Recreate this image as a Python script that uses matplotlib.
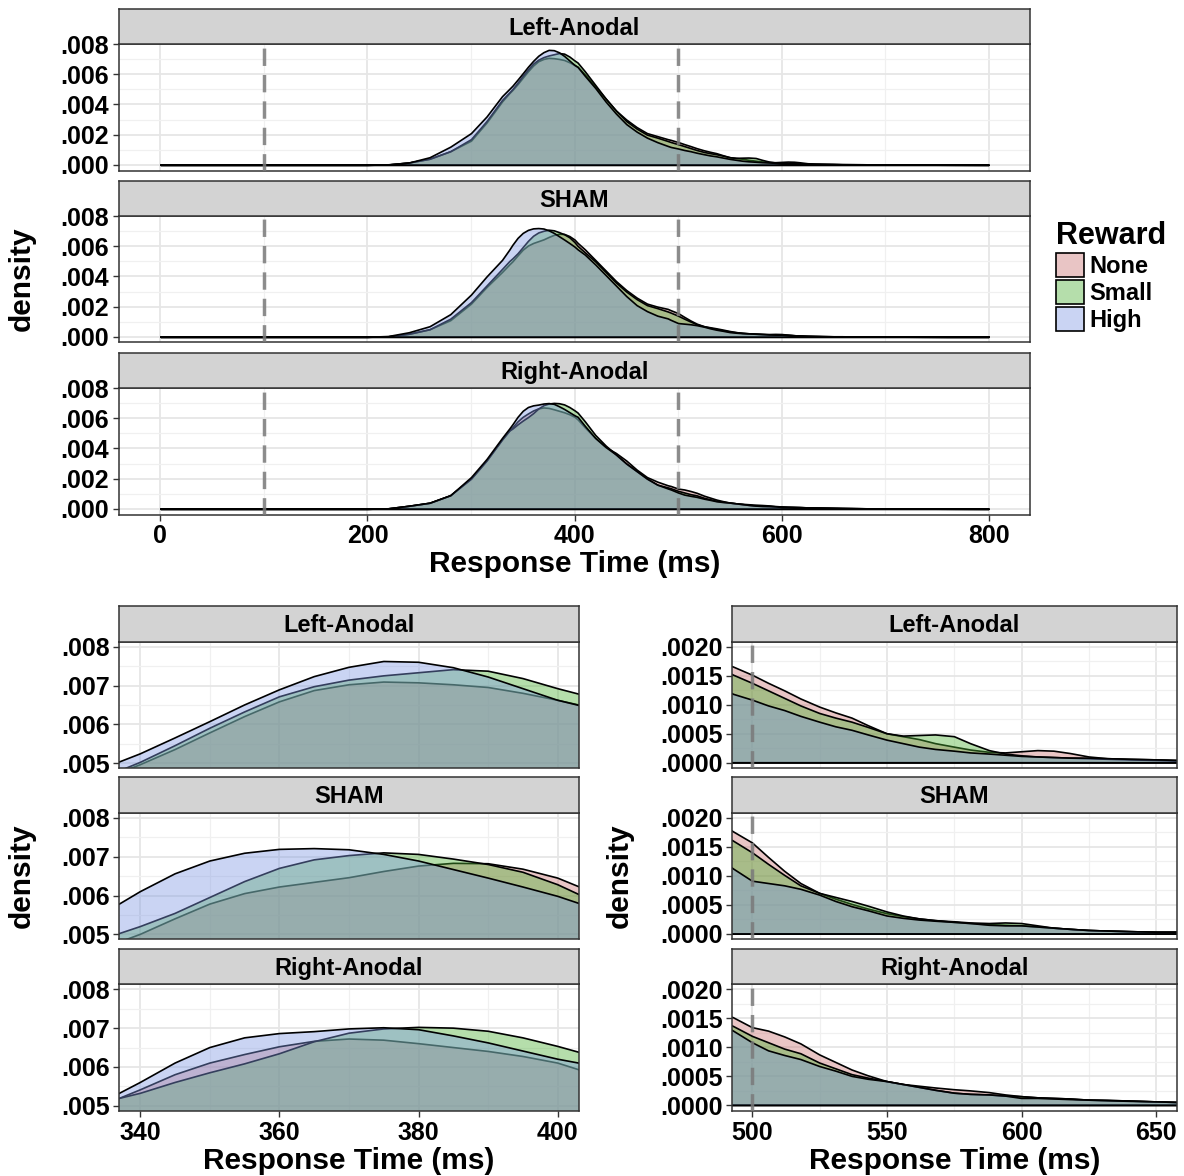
import matplotlib
matplotlib.use("Agg")
import matplotlib.pyplot as plt
import numpy as np
from matplotlib.colors import to_rgba
from matplotlib.patches import Patch
from matplotlib.ticker import FuncFormatter, MultipleLocator

# response time grid (ms) shared by every density curve
rt = [0, 100, 200, 220, 240, 260, 280, 300, 315, 330,
      337, 340, 345, 350, 355, 360, 365, 370, 375, 380,
      385, 390, 395, 400, 403, 410, 420, 430, 440, 450,
      460, 470, 480, 490, 493, 500, 506, 512, 518, 525,
      531, 537, 543, 550, 556, 562, 568, 575, 581, 588,
      594, 600, 606, 612, 618, 625, 632, 640, 650, 658,
      680, 700, 730, 760, 800]

# densities, in units of 1e-4
left_none = [0, 0, 0, 0.2, 1.5, 4, 9, 16, 28, 42,
             47.5, 49.6, 53.5, 57.8, 62.0, 65.8, 68.7, 70.2, 70.9, 70.7,
             70.2, 69.5, 68.0, 66.2, 65.0, 60, 52, 44, 36, 30,
             25, 21, 19, 17, 16.5, 15.1, 13.7, 12.4, 11.0, 9.6,
             8.6, 7.7, 6.4, 5.0, 4.5, 4.0, 3.3, 2.7, 2.2, 1.8,
             1.7, 1.9, 2.1, 2.0, 1.6, 1.0, 0.7, 0.6, 0.5, 0.4,
             0.3, 0.2, 0.1, 0.05, 0]
left_small = [0, 0, 0, 0.2, 1.5, 4, 9, 17, 29, 43,
              48.0, 50.2, 54.5, 59.0, 63.2, 67.1, 69.7, 71.4, 72.5, 73.3,
              74.1, 73.7, 71.8, 69.2, 67.8, 62, 53, 44, 36, 29,
              24, 20, 18, 15.8, 15.1, 13.7, 12.4, 11.1, 9.8, 8.5,
              7.7, 7.0, 6.1, 5.0, 4.6, 4.7, 4.8, 4.5, 3.3, 2.1,
              1.5, 1.2, 1.0, 0.9, 0.8, 0.7, 0.6, 0.5, 0.4, 0.3,
              0.2, 0.15, 0.1, 0.05, 0]
left_high = [0, 0, 0, 0.3, 1.5, 5, 12, 21, 32, 45.5,
             50.3, 52.4, 56.5, 60.7, 65.0, 68.9, 72.3, 74.7, 76.2, 76.0,
             74.6, 72.2, 69.2, 66.2, 64.9, 59, 51, 42, 34, 27,
             22, 18, 15, 12.5, 11.8, 10.8, 9.8, 9.0, 8.0, 7.0,
             6.2, 5.6, 4.8, 3.9, 3.3, 2.7, 2.3, 2.0, 1.7, 1.5,
             1.3, 1.1, 1.0, 0.9, 0.8, 0.8, 0.7, 0.6, 0.5, 0.4,
             0.3, 0.2, 0.1, 0.05, 0]

sham_none = [0, 0, 0, 0.3, 2, 5, 11, 22, 33, 43,
             48.0, 50.0, 54.0, 57.8, 60.5, 62.2, 63.4, 64.6, 66.2, 67.6,
             68.3, 68.2, 66.8, 64.5, 62.3, 58, 51, 44, 37, 31,
             26, 22, 20, 18.5, 17.6, 15.7, 13.2, 10.8, 8.7, 7.0,
             6.0, 5.1, 4.3, 3.5, 3.0, 2.6, 2.3, 2.0, 1.8, 1.6,
             1.5, 1.4, 1.2, 1.0, 0.8, 0.6, 0.5, 0.4, 0.3, 0.3,
             0.2, 0.1, 0.05, 0, 0]
sham_small = [0, 0, 0, 0.3, 2, 5, 12, 23, 34, 45,
              50.2, 52.0, 55.4, 59.5, 63.6, 67.0, 69.2, 70.3, 71.0, 70.6,
              69.4, 68.0, 66.0, 62.8, 60.3, 56, 50, 43, 36, 30,
              25, 21, 19, 16.8, 16.0, 14.0, 12.0, 10.1, 8.3, 7.0,
              6.3, 5.6, 4.8, 3.8, 3.1, 2.6, 2.3, 2.1, 1.9, 1.8,
              1.9, 1.8, 1.4, 1.0, 0.8, 0.6, 0.5, 0.4, 0.3, 0.3,
              0.2, 0.1, 0.05, 0, 0]
sham_high = [0, 0, 0, 0.5, 3, 7, 15, 28, 40, 51,
             57.8, 61.0, 65.6, 68.9, 70.9, 71.9, 72.1, 71.8, 70.6, 68.9,
             66.7, 64.5, 62.2, 59.8, 58.0, 54.5, 48, 41, 34, 27,
             21, 17, 14, 12.2, 11.2, 9.1, 8.7, 8.3, 7.7, 6.7,
             5.6, 4.7, 4.0, 3.1, 2.7, 2.4, 2.2, 2.0, 1.8, 1.5,
             1.4, 1.4, 1.2, 1.0, 0.8, 0.6, 0.5, 0.4, 0.3, 0.3,
             0.2, 0.1, 0.05, 0, 0]

right_none = [0, 0, 0, 0.3, 2, 4, 9, 20, 32, 46,
              51.9, 54.1, 58.0, 61.0, 63.2, 65.2, 66.6, 67.2, 66.9, 66.0,
              65.0, 64.0, 62.7, 61.0, 59.3, 54, 47, 41, 37, 32,
              26, 21, 18, 15.6, 15.1, 13.4, 12.8, 11.8, 10.6, 8.7,
              7.4, 6.1, 5.1, 4.1, 3.6, 3.3, 3.0, 2.7, 2.5, 2.2,
              1.8, 1.5, 1.3, 1.2, 1.1, 0.9, 0.85, 0.75, 0.6, 0.5,
              0.3, 0.2, 0.1, 0.05, 0]
right_small = [0, 0, 0, 0.3, 2, 4, 9, 20, 32, 46,
               51.9, 53.2, 56.0, 58.5, 60.8, 63.4, 66.5, 68.7, 69.8, 70.2,
               70.0, 69.2, 67.5, 65.3, 63.8, 58, 49, 42, 36, 30,
               25, 20, 16, 14.2, 13.6, 11.9, 10.8, 9.7, 8.9, 7.3,
               6.3, 5.3, 4.7, 4.1, 3.6, 3.1, 2.6, 2.1, 1.9, 1.8,
               1.6, 1.5, 1.3, 1.2, 1.1, 0.9, 0.85, 0.75, 0.6, 0.5,
               0.3, 0.2, 0.1, 0.05, 0]
right_high = [0, 0, 0, 0.3, 2, 4, 9, 21, 33, 47,
              53.2, 56.0, 61.0, 65.0, 67.5, 68.6, 69.1, 69.8, 70.1, 69.6,
              68.0, 66.2, 64.1, 62.0, 61.0, 55, 47, 41, 36, 30,
              25, 20, 16, 13.5, 12.8, 10.8, 9.4, 8.6, 7.9, 6.7,
              5.9, 5.0, 4.5, 4.1, 3.6, 3.1, 2.6, 2.1, 1.9, 1.8,
              1.6, 1.2, 1.2, 1.1, 1.0, 0.9, 0.8, 0.7, 0.6, 0.5,
              0.3, 0.2, 0.1, 0.05, 0]

conditions = ["Left-Anodal", "SHAM", "Right-Anodal"]
rewards = ["None", "Small", "High"]
reward_colors = ["#CA7272", "#4DB035", "#7F98E3"]
cutoffs_ms = [100, 500]

curves = {
    "Left-Anodal": [left_none, left_small, left_high],
    "SHAM": [sham_none, sham_small, sham_high],
    "Right-Anodal": [right_none, right_small, right_high],
}

plt.rcParams["font.family"] = ["Liberation Sans", "DejaVu Sans"]
plt.rcParams["font.weight"] = "bold"

W, H = 1184, 1176
fig = plt.figure(figsize=(W / 100, H / 100), dpi=100)
ALPHA = 0.41
TICK_SIZE = 18
TITLE_SIZE = 21.5


def box(left, top, width, height):
    return [left / W, 1 - (top + height) / H, width / W, height / H]


def strip(left, top, width, label):
    sax = fig.add_axes(box(left, top - 35.5, width, 35.5))
    sax.set_facecolor("#D3D3D3")
    sax.set_xticks([])
    sax.set_yticks([])
    for sp in sax.spines.values():
        sp.set_color("#333333")
        sp.set_linewidth(1.1)
    sax.text(0.5, 0.45, label, ha="center", va="center", fontsize=17,
             transform=sax.transAxes)


def panel(left, top, width, cond, xlim, ylim, xstep, ystep, digits, vlines,
          show_x):
    ax = fig.add_axes(box(left, top, width, 126.5))
    x = np.array(rt)
    for vals, col in zip(curves[cond], reward_colors):
        y = np.array(vals) * 1e-4
        ax.fill_between(x, y, facecolor=to_rgba(col, ALPHA),
                        edgecolor="black", linewidth=1.2, zorder=2)
    for v in vlines:
        ax.axvline(v, color="#7A7A7A", lw=2.5, ls=(0, (5, 2.6)),
                   alpha=0.85, zorder=3)
    ax.set_xlim(xlim)
    ax.set_ylim(ylim)
    ax.xaxis.set_major_locator(MultipleLocator(xstep))
    ax.xaxis.set_minor_locator(MultipleLocator(xstep / 2))
    ax.yaxis.set_major_locator(MultipleLocator(ystep))
    ax.yaxis.set_minor_locator(MultipleLocator(ystep / 2))
    ax.grid(which="major", color="#E6E6E6", lw=1.3, zorder=0)
    ax.grid(which="minor", color="#F0F0F0", lw=0.9, zorder=0)
    ax.set_axisbelow(True)
    ax.yaxis.set_major_formatter(
        FuncFormatter(lambda v, p: f"{v:.{digits}f}".lstrip("0")))
    ax.tick_params(which="major", direction="out", length=4, width=1,
                   color="#333333", labelsize=TICK_SIZE, pad=3)
    ax.tick_params(which="minor", length=0)
    if not show_x:
        ax.tick_params(axis="x", labelbottom=False, length=0)
    for sp in ax.spines.values():
        sp.set_color("#333333")
        sp.set_linewidth(1.1)
    strip(left, top, width, cond)
    return ax


# top: full range
tops_full = [44, 216, 388]
for i, cond in enumerate(conditions):
    panel(119, tops_full[i], 911, cond, (-40, 840), (-0.00038, 0.00801),
          200, 0.002, 3, cutoffs_ms, i == 2)

# bottom: zoom on the peak and on the slow tail
tops_zoom = [641.7, 812.9, 984.3]
for i, cond in enumerate(conditions):
    panel(119.4, tops_zoom[i], 459.2, cond, (337, 403), (0.00487, 0.00813),
          20, 0.001, 3, [], i == 2)
    panel(732.2, tops_zoom[i], 444.3, cond, (492.5, 657.5),
          (-0.0000934, 0.002087), 50, 0.0005, 4, [500], i == 2)

fig.text(22 / W, 1 - 279 / H, "density", rotation=90, ha="center",
         va="center", fontsize=TITLE_SIZE)
fig.text(574.5 / W, 1 - 564 / H, "Response Time (ms)", ha="center",
         va="center", fontsize=TITLE_SIZE)
fig.text(22 / W, 1 - 876 / H, "density", rotation=90, ha="center",
         va="center", fontsize=TITLE_SIZE)
fig.text(349 / W, 1 - 1161 / H, "Response Time (ms)", ha="center",
         va="center", fontsize=TITLE_SIZE)
fig.text(620 / W, 1 - 876 / H, "density", rotation=90, ha="center",
         va="center", fontsize=TITLE_SIZE)
fig.text(954.4 / W, 1 - 1161 / H, "Response Time (ms)", ha="center",
         va="center", fontsize=TITLE_SIZE)

handles = [Patch(facecolor=to_rgba(c, ALPHA), edgecolor="black", linewidth=1.2)
           for c in reward_colors]
fig.legend(handles, rewards, loc="upper left",
           bbox_to_anchor=(1056 / W, 1 - 221 / H), frameon=False,
           title="Reward", title_fontsize=22, fontsize=17,
           handlelength=1.2, handleheight=1.2, handletextpad=0.2,
           labelspacing=0.08, borderaxespad=0, borderpad=0, alignment="left")

fig.savefig("out.png", dpi=100)
